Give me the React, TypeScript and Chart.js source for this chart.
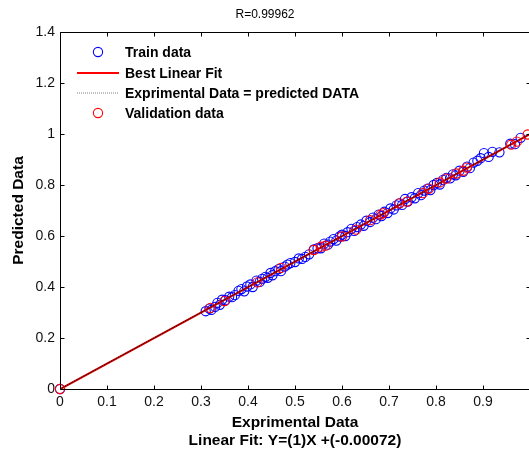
import React, { useEffect, useRef } from "react";
import { Chart, registerables } from "chart.js";

Chart.register(...registerables);

const chartTitle = "R=0.99962";
const xTitle = ["Exprimental Data", "Linear Fit: Y=(1)X +(-0.00072)"];
const yTitle = "Predicted Data";
const legendLabels = ["Train data", "Best Linear Fit", "Exprimental Data = predicted DATA", "Validation data"];

const trainExp = [0, 0.31, 0.318, 0.322, 0.33, 0.335, 0.34, 0.345, 0.352, 0.36, 0.366, 0.372, 0.38, 0.386, 0.392, 0.398, 0.405, 0.41, 0.418, 0.425, 0.43, 0.437, 0.442, 0.448, 0.452, 0.458, 0.465, 0.47, 0.478, 0.484, 0.49, 0.5, 0.508, 0.515, 0.522, 0.53, 0.54, 0.548, 0.555, 0.562, 0.57, 0.575, 0.582, 0.588, 0.595, 0.6, 0.607, 0.612, 0.62, 0.626, 0.632, 0.64, 0.646, 0.652, 0.66, 0.666, 0.672, 0.678, 0.684, 0.69, 0.697, 0.703, 0.71, 0.716, 0.722, 0.728, 0.734, 0.74, 0.748, 0.755, 0.762, 0.768, 0.775, 0.782, 0.788, 0.795, 0.802, 0.808, 0.815, 0.822, 0.83, 0.836, 0.842, 0.85, 0.858, 0.866, 0.872, 0.88, 0.888, 0.895, 0.902, 0.912, 0.92, 0.935, 0.958, 0.968, 0.98];
const trainPred = [0, 0.305, 0.315, 0.31, 0.322, 0.338, 0.33, 0.35, 0.348, 0.362, 0.36, 0.368, 0.385, 0.392, 0.383, 0.402, 0.41, 0.4, 0.425, 0.42, 0.432, 0.44, 0.436, 0.455, 0.446, 0.462, 0.47, 0.462, 0.48, 0.488, 0.494, 0.498, 0.512, 0.51, 0.518, 0.528, 0.547, 0.552, 0.552, 0.57, 0.566, 0.578, 0.588, 0.582, 0.598, 0.605, 0.6, 0.615, 0.628, 0.62, 0.635, 0.645, 0.64, 0.66, 0.655, 0.672, 0.666, 0.684, 0.678, 0.695, 0.69, 0.708, 0.704, 0.72, 0.728, 0.722, 0.745, 0.735, 0.752, 0.748, 0.768, 0.76, 0.778, 0.786, 0.78, 0.8, 0.808, 0.802, 0.82, 0.828, 0.826, 0.842, 0.838, 0.856, 0.852, 0.872, 0.866, 0.888, 0.895, 0.905, 0.925, 0.91, 0.93, 0.928, 0.962, 0.96, 0.985];

const valExp = [0, 0.32, 0.35, 0.42, 0.47, 0.54, 0.555, 0.565, 0.6, 0.63, 0.66, 0.682, 0.688, 0.722, 0.738, 0.772, 0.785, 0.808, 0.822, 0.843, 0.858, 0.866, 0.96, 0.972, 0.995];
const valPred = [0, 0.318, 0.345, 0.418, 0.475, 0.545, 0.558, 0.562, 0.598, 0.625, 0.662, 0.684, 0.69, 0.728, 0.735, 0.768, 0.786, 0.81, 0.825, 0.845, 0.856, 0.868, 0.958, 0.97, 0.998];

const fitSlope = 1;
const fitIntercept = -0.00072;
const lineXs = [0, 1];

const xTicks = [0, 0.1, 0.2, 0.3, 0.4, 0.5, 0.6, 0.7, 0.8, 0.9, 1];
const yTicks = [0, 0.2, 0.4, 0.6, 0.8, 1, 1.2, 1.4];

const FONT = "'Liberation Sans', Arial, sans-serif";
const legendLineColors = ["rgb(0,0,255)", "rgb(255,0,0)", "rgb(130,130,130)", "rgb(255,0,0)"];

const frameAndLegend = {
  id: "frameAndLegend",
  afterDraw(chart: any) {
    const { ctx, chartArea: a, scales } = chart;
    ctx.save();
    ctx.strokeStyle = "#000";
    ctx.lineWidth = 1;
    const L = Math.round(a.left) + 0.5, R = Math.round(a.right) + 0.5;
    const T = Math.round(a.top) + 0.5, B = Math.round(a.bottom) + 0.5;
    ctx.beginPath();
    ctx.rect(L, T, R - L, B - T);
    ctx.stroke();
    const tl = 4;
    ctx.beginPath();
    xTicks.forEach((v) => {
      const px = Math.round(scales.x.getPixelForValue(v)) + 0.5;
      ctx.moveTo(px, B); ctx.lineTo(px, B - tl);
      ctx.moveTo(px, T); ctx.lineTo(px, T + tl);
    });
    yTicks.forEach((v) => {
      const py = Math.round(scales.y.getPixelForValue(v)) + 0.5;
      ctx.moveTo(L, py); ctx.lineTo(L + tl, py);
      ctx.moveTo(R, py); ctx.lineTo(R - tl, py);
    });
    ctx.stroke();

    // legend
    const ds = chart.data.datasets;
    const rowY = [a.top + 20, a.top + 41, a.top + 61, a.top + 81];
    const mx0 = a.left + 17, mx1 = a.left + 59, mc = a.left + 38;
    const tx = a.left + 65;
    [0, 1, 2, 3].forEach((i, r) => {
      const d = ds[i];
      const y = rowY[r];
      if (d.showLine) {
        ctx.beginPath();
        ctx.strokeStyle = legendLineColors[i];
        ctx.lineWidth = d.borderWidth;
        ctx.setLineDash(d.borderDash || []);
        ctx.moveTo(mx0, y); ctx.lineTo(mx1, y);
        ctx.stroke();
        ctx.setLineDash([]);
      } else {
        ctx.beginPath();
        ctx.strokeStyle = d.borderColor;
        ctx.lineWidth = 1.1;
        ctx.arc(mc, y, d.pointRadius, 0, Math.PI * 2);
        ctx.stroke();
      }
      ctx.fillStyle = "#000";
      ctx.font = `bold 14px ${FONT}`;
      ctx.textBaseline = "middle";
      ctx.textAlign = "left";
      ctx.fillText(legendLabels[r], tx, y + 1);
    });
    ctx.restore();
  },
};

export default function App() {
  const ref = useRef<HTMLCanvasElement>(null);
  useEffect(() => {
    const canvas = ref.current!;
    const trainPts = trainExp.map((x, i) => ({ x, y: trainPred[i] }));
    const valPts = valExp.map((x, i) => ({ x, y: valPred[i] }));
    const fitPts = lineXs.map((x) => ({ x, y: fitSlope * x + fitIntercept }));
    const idPts = lineXs.map((x) => ({ x, y: x }));
    const chart = new Chart(canvas, {
      type: "scatter",
      data: {
        datasets: [
          { label: legendLabels[0], data: trainPts, borderColor: "rgb(0,0,255)", backgroundColor: "rgba(0,0,0,0)", pointRadius: 4.6, borderWidth: 1.1, showLine: false, order: 4, clip: false } as any,
          { label: legendLabels[1], data: fitPts, borderColor: "rgb(220,0,0)", backgroundColor: "rgb(220,0,0)", pointRadius: 0, borderWidth: 2, showLine: true, order: 3 } as any,
          { label: legendLabels[2], data: idPts, borderColor: "rgb(0,0,0)", backgroundColor: "rgb(0,0,0)", pointRadius: 0, borderWidth: 1, borderDash: [1, 1], showLine: true, order: 2 } as any,
          { label: legendLabels[3], data: valPts, borderColor: "rgb(255,0,0)", backgroundColor: "rgba(0,0,0,0)", pointRadius: 4.6, borderWidth: 1.1, showLine: false, order: 1, clip: false } as any,
        ],
      },
      options: {
        responsive: false,
        animation: false,
        layout: { padding: { left: 0, right: 30, top: 0, bottom: 0 } },
        plugins: {
          legend: { display: false },
          tooltip: { enabled: false },
          title: {
            display: true,
            text: chartTitle,
            color: "#000",
            font: { family: FONT, size: 12, weight: "normal" },
            padding: { top: 7, bottom: 10.6 },
          },
        },
        scales: {
          x: {
            type: "linear",
            min: 0,
            max: 1,
            afterFit: (s: any) => { s.height = 63; },
            afterBuildTicks: (s: any) => { s.ticks = xTicks.map((v) => ({ value: v })); },
            grid: { display: false, drawTicks: false },
            border: { display: false },
            ticks: {
              color: "#111",
              padding: 5,
              font: { family: FONT, size: 14 },
              maxRotation: 0,
              callback: (v: any) => (v >= 1 ? "" : String(Math.round(v * 10) / 10)),
            },
            title: {
              display: true,
              text: xTitle,
              color: "#000",
              font: { family: FONT, size: 15.5, weight: "bold" },
              padding: { top: 0, bottom: 1.7 },
            },
          },
          y: {
            type: "linear",
            min: 0,
            max: 1.4,
            afterFit: (s: any) => { s.width = 60; },
            afterBuildTicks: (s: any) => { s.ticks = yTicks.map((v) => ({ value: v })); },
            grid: { display: false, drawTicks: false },
            border: { display: false },
            ticks: {
              color: "#111",
              padding: 5,
              font: { family: FONT, size: 14 },
              callback: (v: any) => String(Math.round(v * 10) / 10),
            },
            title: {
              display: true,
              text: yTitle,
              color: "#000",
              font: { family: FONT, size: 15.5, weight: "bold" },
              padding: { top: 9, bottom: 0 },
            },
          },
        },
      },
      plugins: [frameAndLegend],
    });
    return () => chart.destroy();
  }, []);
  return (
    <div style={{ position: "fixed", left: 0, top: 0, width: 529, height: 452, overflow: "hidden", background: "#fff" }}>
      <canvas ref={ref} width={560} height={452} style={{ display: "block" }} />
    </div>
  );
}
